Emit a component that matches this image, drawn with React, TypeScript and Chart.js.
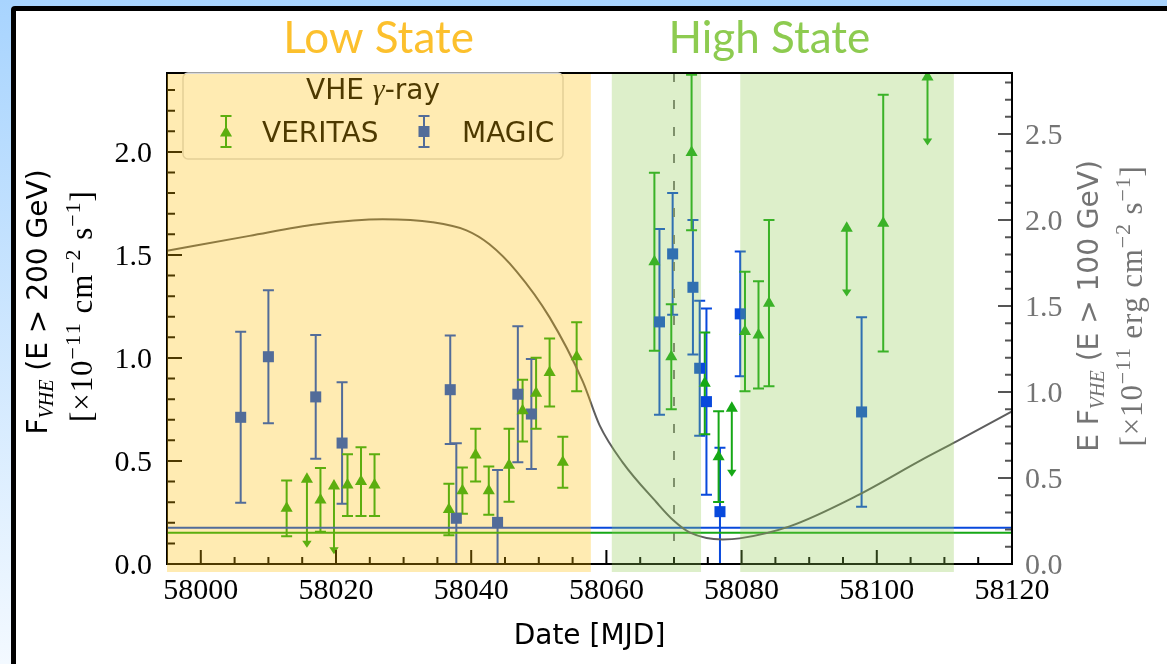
import React, { useEffect, useRef } from 'react';
import { Chart, registerables } from 'chart.js';

Chart.register(...registerables);

// ---------- data ----------
const X_MIN = 57995;
const X_MAX = 58120;
const Y_MAX = 2.383;
const Y2_MAX = 2.855;
const X_TICKS = [58000, 58020, 58040, 58060, 58080, 58100, 58120];
const Y_TICKS = [0, 0.5, 1.0, 1.5, 2.0];
const Y2_TICKS = [0, 0.5, 1.0, 1.5, 2.0, 2.5];

const MAGIC_MJD = [58005.9, 58010.0, 58017.0, 58020.9, 58036.9, 58037.8, 58043.9, 58046.9, 58048.9, 58067.85, 58069.8, 58072.8, 58073.8, 58074.8, 58076.8, 58079.8, 58097.75];
const MAGIC_FLUX = [0.712, 1.006, 0.811, 0.587, 0.846, 0.222, 0.202, 0.824, 0.728, 1.175, 1.505, 1.343, 0.95, 0.788, 0.254, 1.214, 0.738];
const MAGIC_ERR = [0.415, 0.323, 0.3, 0.295, 0.263, 0.364, 0.254, 0.33, 0.267, 0.451, 0.295, 0.326, 0.328, 0.452, 0.31, 0.303, 0.46];

const VERITAS_MJD = [58012.7, 58017.7, 58021.7, 58023.7, 58025.7, 58036.7, 58038.7, 58040.65, 58042.6, 58045.6, 58047.6, 58049.6, 58051.6, 58053.55, 58055.6, 58067.1, 58069.6, 58072.6, 58074.55, 58076.6, 58080.5, 58082.5, 58084.05, 58100.95];
const VERITAS_FLUX = [0.27, 0.311, 0.383, 0.4, 0.383, 0.265, 0.356, 0.529, 0.356, 0.479, 0.744, 0.829, 0.93, 0.494, 1.006, 1.467, 1.006, 1.997, 0.877, 0.521, 1.128, 1.112, 1.266, 1.654];
const VERITAS_ERR = [0.135, 0.155, 0.15, 0.167, 0.15, 0.125, 0.112, 0.128, 0.117, 0.177, 0.15, 0.172, 0.165, 0.124, 0.167, 0.432, 0.255, 0.377, 0.247, 0.22, 0.29, 0.26, 0.403, 0.623];

const VERITAS_UL_MJD = [58015.7, 58019.7, 58078.55, 58095.55, 58107.5];
const VERITAS_UL_FLUX = [0.411, 0.379, 0.756, 1.63, 2.363];
const UL_ARROW = 0.332;

const CURVE_MJD = [57995.0, 58007.2, 58017.2, 58026.9, 58034.3, 58039.3, 58042.7, 58046.7, 58051.6, 58056.5, 58059.0, 58062.4, 58067.4, 58069.9, 58072.3, 58077.2, 58079.7, 58087.1, 58097.0, 58106.7, 58111.8, 58120.0];
const CURVE_EF = [1.821, 1.908, 1.975, 2.004, 1.987, 1.94, 1.859, 1.702, 1.434, 1.062, 0.806, 0.591, 0.359, 0.254, 0.184, 0.143, 0.149, 0.219, 0.396, 0.607, 0.713, 0.888];

const MAGIC_BASELINE = 0.176;
const VERITAS_BASELINE = 0.152;
const FLARE_MJD = 58070;
const LOW_STATE = [57995, 58057.7];
const HIGH_STATES = [[58060.8, 58074.0], [58079.8, 58111.4]];

// ---------- style ----------
const GREEN = '#16a816';
const BLUE = '#0849dc';
const CURVE_COLOR = '#5e5e5e';
const DASH_COLOR = '#787878';
const YELLOW_SPAN = 'rgba(255,190,0,0.30)';
const GREEN_SPAN = 'rgba(141,203,80,0.30)';
const RIGHT_GRAY = '#747474';
const SANS = '"DejaVu Sans", "Noto Sans", sans-serif';
const SERIF = '"Liberation Serif", "DejaVu Serif", serif';
const TITLE_FONT = 'Lato, "Open Sans", sans-serif';

type Run = { t: string; f: string; dy?: number };

function drawRuns(ctx: CanvasRenderingContext2D, runs: Run[], cx: number, cy: number, color: string, rotate: boolean, target?: number) {
  ctx.save();
  ctx.translate(cx, cy);
  if (rotate) ctx.rotate(-Math.PI / 2);
  ctx.fillStyle = color;
  ctx.textBaseline = 'alphabetic';
  ctx.textAlign = 'left';
  let w = 0;
  let n = 0;
  for (const r of runs) { ctx.font = r.f; w += ctx.measureText(r.t).width; n += r.t.length; }
  let extra = 0;
  if (target && n > 1) extra = Math.max(0, Math.min(3, (target - w) / (n - 1)));
  const total = w + extra * (n - 1);
  let x = -total / 2;
  for (const r of runs) {
    ctx.font = r.f;
    if (extra === 0) {
      ctx.fillText(r.t, x, r.dy || 0);
      x += ctx.measureText(r.t).width;
    } else {
      for (const ch of r.t) {
        ctx.fillText(ch, x, r.dy || 0);
        x += ctx.measureText(ch).width + extra;
      }
    }
  }
  ctx.restore();
}

function triangle(ctx: CanvasRenderingContext2D, x: number, y: number, r: number) {
  ctx.beginPath();
  ctx.moveTo(x, y - r);
  ctx.lineTo(x + r * 0.866, y + r / 2);
  ctx.lineTo(x - r * 0.866, y + r / 2);
  ctx.closePath();
  ctx.fill();
}

function errBar(ctx: CanvasRenderingContext2D, px: number, top: number, bot: number, color: string) {
  ctx.strokeStyle = color;
  ctx.lineWidth = 2;
  ctx.beginPath();
  ctx.moveTo(px, top); ctx.lineTo(px, bot);
  ctx.moveTo(px - 5.5, top); ctx.lineTo(px + 5.5, top);
  ctx.moveTo(px - 5.5, bot); ctx.lineTo(px + 5.5, bot);
  ctx.stroke();
}

const framePlugin = {
  id: 'frame',
  beforeDraw(chart: any) {
    const ctx: CanvasRenderingContext2D = chart.ctx;
    const W = chart.width, H = chart.height;
    ctx.save();
    const g = ctx.createLinearGradient(0, 0, 0, H);
    g.addColorStop(0, '#a8d4fe');
    g.addColorStop(1, '#f3f9ff');
    ctx.fillStyle = g;
    ctx.fillRect(0, 0, W, H);
    ctx.fillStyle = '#000';
    ctx.beginPath();
    (ctx as any).roundRect(11, 6, W, H, 4);
    ctx.fill();
    ctx.fillStyle = '#fff';
    ctx.fillRect(16, 11, W, H);
    ctx.restore();
  },
};

const errPlugin = {
  id: 'errbars',
  beforeDatasetsDraw(chart: any) {
    const ctx: CanvasRenderingContext2D = chart.ctx;
    const xs = chart.scales.x, ys = chart.scales.y;
    const a = chart.chartArea;
    ctx.save();
    ctx.beginPath();
    ctx.rect(a.left, a.top, a.right - a.left, a.bottom - a.top);
    ctx.clip();
    MAGIC_MJD.forEach((m, i) => {
      errBar(ctx, xs.getPixelForValue(m), ys.getPixelForValue(MAGIC_FLUX[i] + MAGIC_ERR[i]), ys.getPixelForValue(MAGIC_FLUX[i] - MAGIC_ERR[i]), BLUE);
    });
    VERITAS_MJD.forEach((m, i) => {
      errBar(ctx, xs.getPixelForValue(m), ys.getPixelForValue(VERITAS_FLUX[i] + VERITAS_ERR[i]), ys.getPixelForValue(VERITAS_FLUX[i] - VERITAS_ERR[i]), GREEN);
    });
    VERITAS_UL_MJD.forEach((m, i) => {
      const px = xs.getPixelForValue(m);
      const top = ys.getPixelForValue(VERITAS_UL_FLUX[i]);
      const tip = ys.getPixelForValue(VERITAS_UL_FLUX[i] - UL_ARROW);
      ctx.strokeStyle = GREEN;
      ctx.fillStyle = GREEN;
      ctx.lineWidth = 2;
      ctx.beginPath();
      ctx.moveTo(px, top); ctx.lineTo(px, tip - 5);
      ctx.stroke();
      ctx.beginPath();
      ctx.moveTo(px, tip);
      ctx.lineTo(px - 4.7, tip - 7);
      ctx.lineTo(px + 4.7, tip - 7);
      ctx.closePath();
      ctx.fill();
    });
    ctx.restore();
  },
};

const overlayPlugin = {
  id: 'overlay',
  afterDraw(chart: any) {
    const ctx: CanvasRenderingContext2D = chart.ctx;
    const xs = chart.scales.x, ys = chart.scales.y, y2 = chart.scales.y2;
    const a = chart.chartArea;
    ctx.save();

    // ticks (inward)
    ctx.lineWidth = 2;
    ctx.strokeStyle = '#000';
    ctx.beginPath();
    for (let v = X_MIN; v <= X_MAX + 0.01; v += 5) {
      const px = xs.getPixelForValue(v);
      const major = X_TICKS.some((t) => Math.abs(t - v) < 0.01);
      ctx.moveTo(px, a.bottom); ctx.lineTo(px, a.bottom - (major ? 14 : 7));
    }
    for (let k = 0; k <= 23; k++) {
      const v = k / 10;
      const py = ys.getPixelForValue(v);
      const major = k % 5 === 0;
      ctx.moveTo(a.left, py); ctx.lineTo(a.left + (major ? 15 : 8), py);
    }
    ctx.stroke();
    ctx.strokeStyle = '#555';
    ctx.beginPath();
    for (let k = 0; k <= 28; k++) {
      const v = k / 10;
      const py = y2.getPixelForValue(v);
      const major = k % 5 === 0;
      ctx.moveTo(a.right, py); ctx.lineTo(a.right - (major ? 14 : 7), py);
    }
    ctx.stroke();

    // spines
    ctx.strokeStyle = '#000';
    ctx.lineWidth = 2;
    ctx.strokeRect(a.left, a.top, a.right - a.left, a.bottom - a.top);

    // legend
    ctx.fillStyle = 'rgba(255,255,255,0.85)';
    ctx.strokeStyle = '#d8d8d8';
    ctx.lineWidth = 1.5;
    ctx.beginPath();
    (ctx as any).roundRect(183, a.top, 380, 86, 5);
    ctx.fill();
    ctx.stroke();
    drawRuns(ctx, [
      { t: 'VHE ', f: `28px ${SANS}` },
      { t: 'γ', f: `italic 30px ${SERIF}` },
      { t: '-ray', f: `28px ${SANS}` },
    ], 373, 99, '#000', false);
    errBar(ctx, 226, 116, 147, GREEN);
    ctx.fillStyle = GREEN;
    triangle(ctx, 226, 133, 7);
    errBar(ctx, 424, 116, 147, BLUE);
    ctx.fillStyle = BLUE;
    ctx.fillRect(424 - 5.5, 131.5 - 5.5, 11, 11);
    ctx.fillStyle = '#000';
    ctx.font = `28px ${SANS}`;
    ctx.textBaseline = 'alphabetic';
    ctx.textAlign = 'left';
    ctx.fillText('VERITAS', 262, 142);
    ctx.fillText('MAGIC', 462, 142);

    // state spans overlay
    const spanTop = a.top + 1;
    const spanBot = a.bottom + 8;
    const fillSpan = (x0: number, x1: number, c: string) => {
      const p0 = Math.max(a.left, xs.getPixelForValue(x0));
      const p1 = Math.min(a.right, xs.getPixelForValue(x1));
      ctx.fillStyle = c;
      ctx.fillRect(p0, spanTop, p1 - p0, spanBot - spanTop);
    };
    fillSpan(LOW_STATE[0], LOW_STATE[1], YELLOW_SPAN);
    HIGH_STATES.forEach((s) => fillSpan(s[0], s[1], GREEN_SPAN));

    // state titles
    ctx.font = `44px ${TITLE_FONT}`;
    ctx.textAlign = 'center';
    ctx.textBaseline = 'alphabetic';
    ctx.fillStyle = '#fcc02d';
    ctx.fillText('Low State', xs.getPixelForValue(58026.3), 53);
    ctx.fillStyle = '#8dcb50';
    ctx.fillText('High State', xs.getPixelForValue(58084.1), 53);

    // axis titles
    ctx.fillStyle = '#000';
    ctx.font = `28px ${SANS}`;
    ctx.fillText('Date [MJD]', (a.left + a.right) / 2, 644);

    drawRuns(ctx, [
      { t: 'F', f: `28px ${SANS}` },
      { t: 'VHE', f: `italic 20px ${SERIF}`, dy: 6 },
      { t: ' (E > 200 GeV)', f: `28px ${SANS}` },
    ], 47, 302, '#000', true);
    drawRuns(ctx, [
      { t: '[×10', f: `31px ${SERIF}` },
      { t: '−11', f: `22px ${SERIF}`, dy: -12 },
      { t: ' cm', f: `31px ${SERIF}` },
      { t: '−2', f: `22px ${SERIF}`, dy: -12 },
      { t: ' s', f: `31px ${SERIF}` },
      { t: '−1', f: `22px ${SERIF}`, dy: -12 },
      { t: ']', f: `31px ${SERIF}` },
    ], 92, 307, '#000', true, 230);
    drawRuns(ctx, [
      { t: 'E F', f: `28px ${SANS}` },
      { t: 'VHE', f: `italic 20px ${SERIF}`, dy: 6 },
      { t: ' (E > 100 GeV)', f: `28px ${SANS}` },
    ], 1098, 306, RIGHT_GRAY, true);
    drawRuns(ctx, [
      { t: '[×10', f: `31px ${SERIF}` },
      { t: '−11', f: `22px ${SERIF}`, dy: -12 },
      { t: ' erg cm', f: `31px ${SERIF}` },
      { t: '−2', f: `22px ${SERIF}`, dy: -12 },
      { t: ' s', f: `31px ${SERIF}` },
      { t: '−1', f: `22px ${SERIF}`, dy: -12 },
      { t: ']', f: `31px ${SERIF}` },
    ], 1142, 307, RIGHT_GRAY, true, 279);

    ctx.restore();
  },
};

export default function App() {
  const ref = useRef<HTMLCanvasElement>(null);
  useEffect(() => {
    document.body.style.margin = '0';
    const canvas = ref.current;
    if (!canvas) return;
    const chart = new Chart(canvas, {
      type: 'scatter',
      data: {
        datasets: [
          {
            label: 'VERITAS',
            data: VERITAS_MJD.map((x, i) => ({ x, y: VERITAS_FLUX[i] })),
            pointStyle: 'triangle',
            pointRadius: 7,
            backgroundColor: GREEN,
            borderWidth: 0,
            order: 1,
          },
          {
            label: 'VERITAS UL',
            data: VERITAS_UL_MJD.map((x, i) => ({ x, y: VERITAS_UL_FLUX[i] })),
            pointStyle: 'triangle',
            pointRadius: 7,
            backgroundColor: GREEN,
            borderWidth: 0,
            order: 1,
          },
          {
            label: 'MAGIC',
            data: MAGIC_MJD.map((x, i) => ({ x, y: MAGIC_FLUX[i] })),
            pointStyle: 'rect',
            pointRadius: 7.8,
            backgroundColor: BLUE,
            borderWidth: 0,
            order: 1,
          },
          {
            type: 'line',
            label: 'EF',
            yAxisID: 'y2',
            data: CURVE_MJD.map((x, i) => ({ x, y: CURVE_EF[i] })),
            borderColor: CURVE_COLOR,
            borderWidth: 2,
            pointRadius: 0,
            cubicInterpolationMode: 'monotone',
            order: 3,
          } as any,
          {
            type: 'line',
            label: 'MAGIC baseline',
            data: [{ x: X_MIN, y: MAGIC_BASELINE }, { x: X_MAX, y: MAGIC_BASELINE }],
            borderColor: BLUE,
            borderWidth: 2,
            pointRadius: 0,
            order: 4,
          } as any,
          {
            type: 'line',
            label: 'VERITAS baseline',
            data: [{ x: X_MIN, y: VERITAS_BASELINE }, { x: X_MAX, y: VERITAS_BASELINE }],
            borderColor: GREEN,
            borderWidth: 2,
            pointRadius: 0,
            order: 4,
          } as any,
          {
            type: 'line',
            label: 'flare',
            data: [{ x: FLARE_MJD, y: Y_MAX }, { x: FLARE_MJD, y: 0 }],
            borderColor: DASH_COLOR,
            borderWidth: 2,
            borderDash: [9, 18],
            pointRadius: 0,
            order: 5,
          } as any,
        ],
      },
      options: {
        animation: false,
        responsive: false,
        maintainAspectRatio: false,
        devicePixelRatio: 1,
        layout: { padding: { top: 73, left: 0, right: 0, bottom: 0 } },
        plugins: { legend: { display: false }, tooltip: { enabled: false } },
        scales: {
          x: {
            type: 'linear',
            position: 'bottom',
            min: X_MIN,
            max: X_MAX,
            grid: { display: false, drawTicks: false },
            border: { display: false },
            ticks: {
              color: '#000',
              font: { family: SERIF, size: 30 },
              padding: 9,
              autoSkip: false,
              maxRotation: 0,
              minRotation: 0,
              callback: (v: any) => String(v),
            },
            afterBuildTicks: (s: any) => { s.ticks = X_TICKS.map((v) => ({ value: v })); },
            afterFit: (s: any) => { s.height = 100; },
          },
          y: {
            type: 'linear',
            position: 'left',
            min: 0,
            max: Y_MAX,
            grid: { display: false, drawTicks: false },
            border: { display: false },
            ticks: {
              color: '#000',
              font: { family: SERIF, size: 30 },
              padding: 15,
              labelOffset: 2,
              callback: (v: any) => Number(v).toFixed(1),
            },
            afterBuildTicks: (s: any) => { s.ticks = Y_TICKS.map((v) => ({ value: v })); },
            afterFit: (s: any) => { s.width = 167; },
          },
          y2: {
            type: 'linear',
            position: 'right',
            min: 0,
            max: Y2_MAX,
            grid: { display: false, drawTicks: false },
            border: { display: false },
            ticks: {
              color: RIGHT_GRAY,
              font: { family: SERIF, size: 30 },
              padding: 13,
              labelOffset: 2,
              callback: (v: any) => Number(v).toFixed(1),
            },
            afterBuildTicks: (s: any) => { s.ticks = Y2_TICKS.map((v) => ({ value: v })); },
            afterFit: (s: any) => { s.width = 155; },
          },
        },
      } as any,
      plugins: [framePlugin, errPlugin, overlayPlugin],
    });
    return () => chart.destroy();
  }, []);
  return (
    <div style={{ position: 'fixed', left: 0, top: 0, width: 1167, height: 664 }}>
      <canvas ref={ref} width={1167} height={664} style={{ width: 1167, height: 664, display: 'block' }} />
    </div>
  );
}
